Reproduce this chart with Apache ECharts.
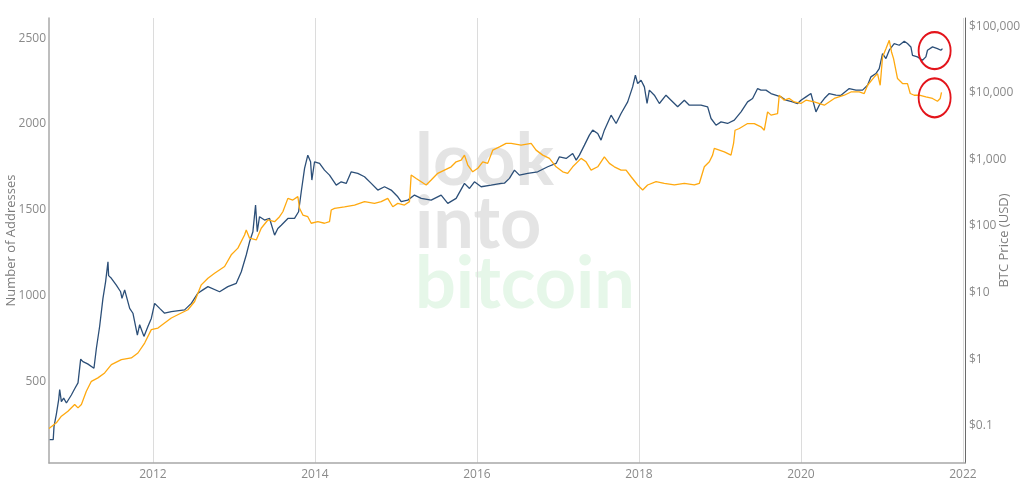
<!DOCTYPE html>
<html>
<head>
<meta charset="utf-8">
<script src="https://cdn.jsdelivr.net/npm/echarts@6/dist/echarts.min.js"></script>
<style>html,body{margin:0;padding:0;background:#fff}#c{width:1024px;height:500px}</style>
</head>
<body>
<div id="c"></div>
<script>
// Dates are decimal years
const priceDates = [2010.725,2010.769,2010.779,2010.808,2010.837,2010.849,2010.870,2010.898,2010.932,2010.993,2011.034,2011.075,2011.108,2011.136,2011.194,2011.272,2011.302,2011.342,2011.383,2011.416,2011.445,2011.453,2011.487,2011.548,2011.601,2011.618,2011.651,2011.713,2011.753,2011.808,2011.836,2011.889,2011.938,2011.980,2012.021,2012.083,2012.144,2012.227,2012.391,2012.474,2012.555,2012.617,2012.679,2012.823,2012.925,2013.029,2013.091,2013.152,2013.193,2013.234,2013.267,2013.288,2013.316,2013.378,2013.440,2013.502,2013.542,2013.584,2013.666,2013.748,2013.798,2013.831,2013.872,2013.912,2013.946,2013.962,2013.995,2014.057,2014.118,2014.180,2014.263,2014.324,2014.386,2014.448,2014.529,2014.612,2014.695,2014.776,2014.859,2014.941,2015.023,2015.065,2015.146,2015.229,2015.312,2015.435,2015.558,2015.640,2015.743,2015.846,2015.908,2015.969,2016.052,2016.175,2016.299,2016.339,2016.401,2016.463,2016.524,2016.627,2016.750,2016.874,2016.977,2017.018,2017.101,2017.182,2017.225,2017.265,2017.327,2017.388,2017.429,2017.491,2017.532,2017.573,2017.656,2017.718,2017.779,2017.861,2017.922,2017.956,2017.984,2018.026,2018.067,2018.100,2018.128,2018.190,2018.252,2018.334,2018.396,2018.478,2018.560,2018.622,2018.766,2018.848,2018.890,2018.951,2019.013,2019.094,2019.177,2019.260,2019.341,2019.403,2019.465,2019.506,2019.568,2019.630,2019.753,2019.815,2019.896,2019.958,2020.000,2020.062,2020.123,2020.185,2020.226,2020.288,2020.349,2020.432,2020.494,2020.596,2020.679,2020.760,2020.822,2020.864,2020.925,2020.966,2021.007,2021.049,2021.090,2021.151,2021.213,2021.275,2021.315,2021.357,2021.377,2021.438,2021.500,2021.542,2021.562,2021.624,2021.685,2021.727,2021.747];
const priceUSD = [0.062,0.062,0.098,0.15,0.25,0.35,0.23,0.26,0.22,0.29,0.36,0.44,1.0,0.92,0.85,0.73,1.46,3.1,8.2,14.6,29,18,16.4,13,10.3,8.2,11,5.8,4.9,2.3,3.3,2.2,3.1,4.1,6.9,5.8,4.9,5.2,5.5,6.9,9.8,11,12.3,10.3,12.3,13.8,20.6,36.7,58,82,207,82,138,123,130,73,92,103,130,130,164,327,733,1160,923,490,923,871,692,582,412,462,437,653,617,550,437,347,389,347,275,232,245,292,260,245,292,219,260,437,367,462,389,412,437,440,520,692,582,617,653,777,871,1096,1035,1230,977,1160,1640,2320,2754,2454,1950,2754,4620,3470,4900,7330,12300,18400,13800,15500,12300,6920,11000,9230,6920,9230,7760,6170,7760,6530,6530,6170,4120,3270,3670,3470,3890,5190,7330,8220,11600,11000,11000,9770,8710,7760,7330,6920,7760,8710,9770,5190,6530,8220,9770,9230,9200,11600,11000,11000,13000,17400,19500,23200,38900,32700,43700,55000,51900,59600,55000,49000,36700,34700,30900,34700,43700,49000,46200,43700,46200];

const addressDates = [2010.717,2010.725,2010.808,2010.870,2010.951,2011.034,2011.075,2011.117,2011.178,2011.240,2011.321,2011.404,2011.487,2011.610,2011.733,2011.815,2011.898,2011.980,2012.062,2012.144,2012.227,2012.350,2012.432,2012.515,2012.597,2012.679,2012.761,2012.885,2012.967,2013.049,2013.131,2013.152,2013.193,2013.276,2013.337,2013.419,2013.502,2013.563,2013.604,2013.666,2013.727,2013.789,2013.810,2013.851,2013.912,2013.954,2014.036,2014.118,2014.180,2014.201,2014.242,2014.365,2014.489,2014.612,2014.735,2014.818,2014.899,2014.961,2015.023,2015.105,2015.167,2015.188,2015.250,2015.312,2015.373,2015.435,2015.516,2015.599,2015.682,2015.743,2015.805,2015.846,2015.887,2015.948,2016.010,2016.072,2016.133,2016.195,2016.278,2016.360,2016.422,2016.545,2016.669,2016.730,2016.812,2016.895,2016.977,2017.059,2017.120,2017.182,2017.286,2017.347,2017.409,2017.491,2017.573,2017.635,2017.696,2017.779,2017.841,2017.903,2017.984,2018.046,2018.107,2018.211,2018.313,2018.437,2018.560,2018.684,2018.745,2018.807,2018.869,2018.909,2018.930,2019.054,2019.136,2019.168,2019.186,2019.239,2019.341,2019.424,2019.506,2019.547,2019.588,2019.630,2019.711,2019.732,2019.794,2019.856,2019.917,2020.000,2020.062,2020.164,2020.288,2020.411,2020.534,2020.617,2020.719,2020.781,2020.822,2020.904,2020.945,2020.978,2021.007,2021.049,2021.090,2021.118,2021.143,2021.192,2021.254,2021.315,2021.349,2021.398,2021.460,2021.542,2021.624,2021.685,2021.719,2021.735];
const addressCount = [225,229,258,297,326,365,345,365,442,500,520,549,597,626,636,665,723,801,810,840,869,898,917,965,1062,1101,1130,1169,1237,1276,1353,1382,1334,1324,1392,1440,1430,1459,1488,1566,1556,1576,1508,1469,1459,1421,1430,1421,1430,1498,1508,1517,1527,1547,1537,1547,1566,1517,1537,1527,1547,1702,1682,1663,1644,1673,1712,1731,1750,1779,1789,1818,1760,1721,1741,1779,1770,1847,1866,1886,1886,1876,1886,1847,1818,1799,1750,1721,1712,1750,1799,1779,1731,1750,1808,1770,1750,1731,1731,1692,1644,1615,1644,1663,1653,1644,1653,1644,1653,1750,1779,1818,1857,1837,1818,1886,1963,1973,2002,2002,1983,1963,2070,2051,2060,2167,2138,2148,2128,2119,2138,2128,2109,2148,2167,2186,2186,2177,2225,2273,2293,2225,2390,2438,2487,2419,2380,2264,2235,2235,2177,2167,2167,2157,2148,2132,2148,2183];

const yearTicks = [2012,2014,2016,2018,2020,2022];
const addressTicks = [500,1000,1500,2000,2500];
const priceTicks = [0.1,1,10,100,1000,10000,100000];

// highlighted latest values (red circles)
const highlightYear = 2021.65;
const highlightPrice = 43000;
const highlightAddresses = 2152;

const FONT = '"Open Sans", "Noto Sans", sans-serif';
const chart = echarts.init(document.getElementById('c'), null, {renderer:'canvas'});

chart.setOption({
  backgroundColor:'#ffffff',
  animation:false,
  grid:{left:49, right:59, top:18, bottom:37, containLabel:false, outerBoundsMode:'none'},
  graphic:[{
    type:'text', left:415, top:126, z:0, silent:true,
    style:{text:'look\ninto', font:'bold 72px Lato, "Liberation Sans", sans-serif', fill:'#e4e4e4', lineHeight:63}
  },{
    type:'text', left:415, top:249, z:0, silent:true,
    style:{text:'bitcoin', font:'bold 72px Lato, "Liberation Sans", sans-serif', fill:'#e6f7e9', lineHeight:63}
  }],
  xAxis:{
    type:'value', min:2010.717, max:2022.025,
    axisLine:{show:true, lineStyle:{color:'#a8a8a8', width:1.5}},
    axisTick:{show:false, customValues:yearTicks},
    axisLabel:{customValues:yearTicks, color:'#8a8a8a', fontSize:12, fontFamily:FONT, margin:6,
      formatter:v=>String(Math.round(v))},
    splitLine:{show:true, lineStyle:{color:'#dcdcdc', width:1}}
  },
  yAxis:[{
    type:'value', position:'left', min:24, max:2617,
    name:'Number of Addresses', nameLocation:'middle', nameRotate:90, nameGap:31, nameMoveOverlap:false,
    nameTextStyle:{color:'#7d7d7d', fontSize:13, fontFamily:FONT},
    axisLine:{show:true, lineStyle:{color:'#a8a8a8', width:1.5}},
    axisTick:{show:false, customValues:addressTicks},
    axisLabel:{customValues:addressTicks, color:'#8a8a8a', fontSize:12, fontFamily:FONT, margin:3,
      formatter:v=>String(Math.round(v))},
    splitLine:{show:false}
  },{
    type:'log', position:'right', min:0.0276, max:133200,
    name:'BTC Price (USD)', nameLocation:'middle', nameRotate:90, nameGap:33, nameMoveOverlap:false,
    nameTextStyle:{color:'#7d7d7d', fontSize:13, fontFamily:FONT},
    axisLine:{show:true, lineStyle:{color:'#6a6a6a', width:1}},
    axisTick:{show:false, customValues:priceTicks},
    axisLabel:{customValues:priceTicks, color:'#8a8a8a', fontSize:12, fontFamily:FONT, margin:4,
      formatter:v=>'$'+Number(v).toLocaleString('en-US',{maximumFractionDigits:2})},
    splitLine:{show:false}
  }],
  series:[{
    name:'BTC Price', type:'line', yAxisIndex:1, showSymbol:false, z:3,
    data:priceDates.map((d,i)=>[d,priceUSD[i]]),
    lineStyle:{color:'#2c4f78', width:1.3},
    markPoint:{symbol:'circle', symbolSize:[32,37], silent:true, label:{show:false},
      itemStyle:{color:'rgba(0,0,0,0)', borderColor:'#e3141b', borderWidth:2},
      data:[{coord:[highlightYear, highlightPrice]}]}
  },{
    name:'Number of Addresses', type:'line', yAxisIndex:0, showSymbol:false, z:4,
    data:addressDates.map((d,i)=>[d,addressCount[i]]),
    lineStyle:{color:'#ffa90f', width:1.3},
    markPoint:{symbol:'circle', symbolSize:[32,39], silent:true, label:{show:false},
      itemStyle:{color:'rgba(0,0,0,0)', borderColor:'#e3141b', borderWidth:2},
      data:[{coord:[highlightYear, highlightAddresses]}]}
  }]
});
</script>
</body>
</html>
